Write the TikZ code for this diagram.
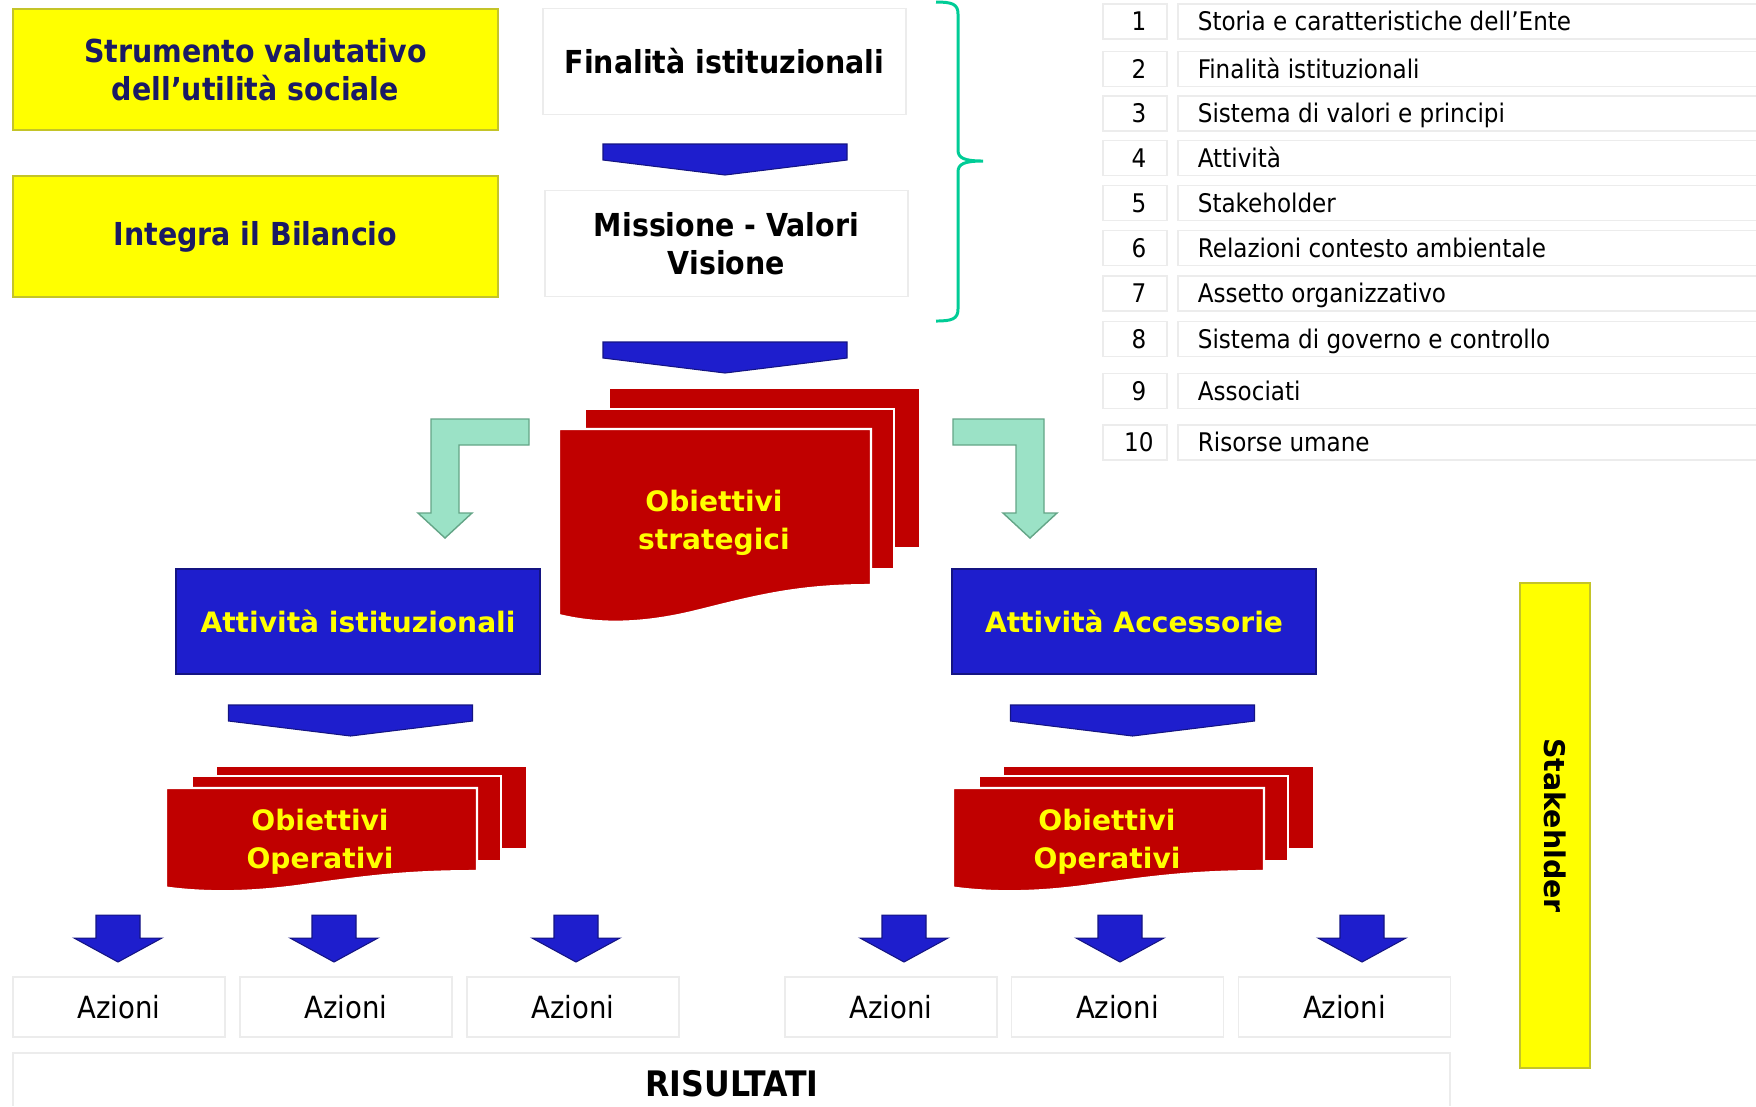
\documentclass[tikz,border=0pt]{standalone}
\usepackage{fontspec}
\setmainfont{DejaVu Sans}
\newfontfamily\tahoma{DejaVu Sans Condensed}
\usetikzlibrary{positioning}
\definecolor{giallo}{RGB}{255,255,0}
\definecolor{gialloedge}{RGB}{196,196,40}
\definecolor{navy}{RGB}{26,26,100}
\definecolor{blu}{RGB}{30,30,205}
\definecolor{bluedge}{RGB}{20,20,130}
\definecolor{rosso}{RGB}{192,0,0}
\definecolor{verde}{RGB}{155,226,198}
\definecolor{verdedge}{RGB}{100,165,135}
\definecolor{graffa}{RGB}{0,204,150}
\definecolor{grigino}{RGB}{236,236,236}
\tikzset{every picture/.style={line width=0.5pt}}
\tikzstyle{yellowbox}=[rectangle,fill=giallo,draw=gialloedge,line width=0.8pt,text=navy,font=\tahoma\bfseries\fontsize{9}{10.9}\selectfont,align=center,minimum width=48.5mm,minimum height=12.1mm,inner sep=0pt]
\tikzstyle{whitebox}=[rectangle,draw=grigino,font=\tahoma\bfseries\fontsize{9}{10.9}\selectfont,align=center,minimum width=36.3mm,minimum height=10.6mm,inner sep=0pt]
\tikzstyle{bluebox}=[rectangle,fill=blu,draw=bluedge,line width=0.6pt,text=giallo,font=\bfseries\fontsize{8}{9.6}\selectfont,minimum width=36.4mm,minimum height=10.5mm,inner sep=0pt]
\tikzstyle{redtext}=[text=giallo,font=\bfseries\fontsize{8}{10.9}\selectfont,align=center,inner sep=0pt]
\tikzstyle{sheet}=[fill=rosso,draw=white,line width=0.6pt]
\tikzstyle{chevfill}=[fill=blu,draw=bluedge,line width=0.3pt]
\tikzstyle{greenarrow}=[fill=verde,draw=verdedge,line width=0.4pt]
\tikzstyle{brace}=[draw=graffa,line width=0.85pt]
\tikzstyle{faint}=[draw=grigino,line width=0.5pt]
\tikzstyle{azbox}=[rectangle,draw=grigino,font=\tahoma\fontsize{8.7}{10}\selectfont,minimum width=21.2mm,minimum height=6mm,inner sep=0pt]
\tikzstyle{numbox}=[rectangle,draw=grigino,font=\tahoma\fontsize{7.3}{9}\selectfont,minimum width=6.4mm,minimum height=3.5mm,inner sep=0pt]
\tikzstyle{rowtext}=[anchor=west,font=\tahoma\fontsize{7.3}{9}\selectfont,text height=5.3pt,text depth=1.4pt,inner sep=0pt]
\tikzstyle{stakebox}=[rectangle,fill=giallo,draw=gialloedge,line width=0.8pt,font=\bfseries\fontsize{8.1}{10}\selectfont,minimum width=48.5mm,minimum height=7mm,inner sep=0pt]
\tikzset{
  pics/chevron/.style={code={\filldraw[chevfill] (-122,0) -- (122,0) -- (122,16) -- (0,31) -- (-122,16) -- cycle;}},
  pics/downarrow/.style={code={\filldraw[chevfill] (-22,0) -- (22,0) -- (22,23) -- (44,23) -- (0,47) -- (-44,23) -- (-22,23) -- cycle;}},
  pics/larrow/.style={code={\filldraw[greenarrow] (0,0) -- (#1,0) -- (#1,26) -- (28,26) -- (28,94) -- (41,94) -- (14,119) -- (-13,94) -- (0,94) -- cycle;}},
  pics/larrow/.default=98
}

\begin{document}
\begin{tikzpicture}[x=0.1mm,y=-0.1mm]
\useasboundingbox (0,0) rectangle (1756,1106);

% yellow boxes on the left
\node[yellowbox] (S) at (255.5,69.5) {Strumento valutativo\\dell’utilità sociale};
\node[yellowbox] (I) at (255.5,236.5) {Integra il Bilancio};

% top column
\node[whitebox] (F) at (724.5,61.5) {Finalità istituzionali};
\node[whitebox] (M) at (726.5,243.5) {Missione - Valori\\Visione};
\pic at (725,144) {chevron};
\pic at (725,342) {chevron};
\draw[brace] (936,2) .. controls (952,2) and (958,4) .. (958,14) -- (958,150) .. controls (958,158) and (964,161) .. (983,161) .. controls (964,161) and (958,164) .. (958,172) -- (958,309) .. controls (958,319) and (952,321) .. (936,321);

% obiettivi strategici
\filldraw[sheet] (609,388) rectangle (920,548);
\filldraw[sheet] (585,409) rectangle (894,569);
\filldraw[sheet] (559,429) -- (871,429) -- (871,585) .. controls (800,585) and (760,595) .. (700,610) .. controls (645,624) and (600,625) .. (559,615) -- cycle;
\node[redtext] (OS) at (714,523) {Obiettivi\\strategici};

\pic at (431,419) {larrow};
\pic[xscale=-1] at (1044,419) {larrow=91};

% attivita
\node[bluebox] (AI) at (358,621.5) {Attività istituzionali};
\node[bluebox] (AA) at (1134,621.5) {Attività Accessorie};
\pic at (350.5,705) {chevron};
\pic at (1132.5,705) {chevron};

% obiettivi operativi
\foreach \dx/\nm in {0/OL,787/OR}{
  \filldraw[sheet] (216+\dx,766) rectangle (527+\dx,849);
  \filldraw[sheet] (192+\dx,776) rectangle (501+\dx,861);
  \filldraw[sheet] (166+\dx,788) -- (477+\dx,788) -- (477+\dx,871) .. controls (406+\dx,871) and (366+\dx,876.5) .. (306+\dx,884.7) .. controls (252+\dx,892.5) and (207+\dx,893) .. (166+\dx,887.5) -- cycle;
  \node[redtext] (\nm) at (320+\dx,842) {Obiettivi\\Operativi};
}

% azioni
\foreach \x in {118,334,576,904,1120,1362}
  \pic at (\x,915) {downarrow};
\foreach \x/\n in {119/1,346/2,573/3,891/4,1117.5/5,1344.5/6}
  \node[azbox] (az\n) at (\x,1007) {Azioni};
\draw[faint] (13,1106) |- (1450,1053) -- (1450,1106);
\node[font=\tahoma\bfseries\fontsize{10}{12}\selectfont,inner sep=0pt] (R) at (732,1084) {RISULTATI};

\node[stakebox,rotate=-90] (SH) at (1555,825.5) {Stakehlder};

% indice
\foreach \n/\y/\t in {1/21.5/{Storia e caratteristiche dell’Ente},2/69/{Finalità istituzionali},3/113.5/{Sistema di valori e principi},4/158/{Attività},5/203/{Stakeholder},6/248/{Relazioni contesto ambientale},7/293.5/{Assetto organizzativo},8/339/{Sistema di governo e controllo},9/391/{Associati},10/442.5/{Risorse umane}}{
  \node[numbox] (n\n) at (1135,\y) {\hspace*{2.2pt}\n};
  \draw[faint] (1756,\y-17.5) -| (1178,\y+17.5) -- (1756,\y+17.5);
  \node[rowtext] (t\n) at (1197,\y+2.5) {\t};
}
\end{tikzpicture}
\end{document}
